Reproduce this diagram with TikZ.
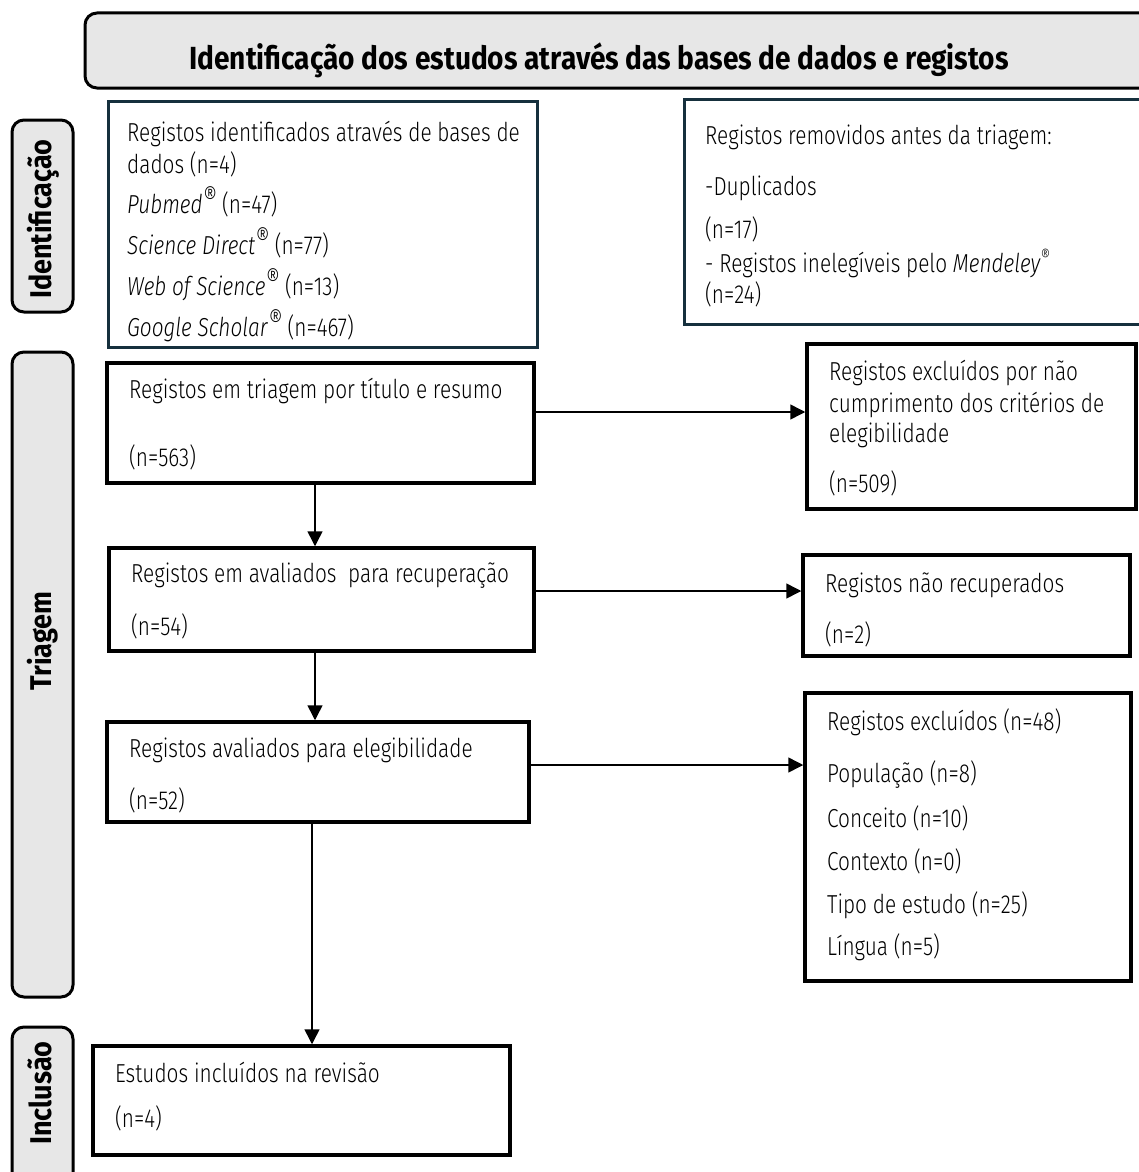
\documentclass[tikz,border=0pt]{standalone}
\usepackage{fontspec}
\usepackage{graphicx}
\setmainfont{Fira Sans}[UprightFont=* Light, ItalicFont=* Light Italic, FakeStretch=0.80]
\newfontfamily\headfont{Fira Sans}[UprightFont=* Bold, FakeStretch=0.877]
\newfontfamily\sidefont{Fira Sans}[UprightFont=* Bold, FakeStretch=0.90]
\usetikzlibrary{arrows.meta}
\definecolor{navy}{HTML}{16303D}
\definecolor{panel}{HTML}{E7E7E7}
\newcommand{\regmark}{\raisebox{7pt}{\fontsize{27}{27}\selectfont\textit{®}}}
\tikzset{
  box/.style={draw=black, line width=3.5pt, fill=white, inner sep=0, minimum width=#1},
  navybox/.style={draw=navy, line width=3pt, fill=white, inner sep=0},
  panelbox/.style={draw=black, line width=3pt, fill=panel, rounded corners=12pt},
  txt/.style={anchor=base west, inner sep=0, font=\fontsize{26}{30}\selectfont},
  head/.style={inner sep=0, font=\headfont\fontsize{32}{36}\selectfont},
  side/.style={inner sep=0, rotate=90, anchor=base, font=\sidefont\fontsize{30}{34}\selectfont},
  arr/.style={line width=1.5pt, -{Triangle[width=15pt,length=15pt]}}
}
\begin{document}
\begin{tikzpicture}[x=1pt,y=-1pt]
\useasboundingbox (0,0) rectangle (1138,1172);
\fill[white] (0,0) rectangle (1138,1172);
% title
\draw[panelbox] (85,13) rectangle (1160,88);
\node[head, anchor=base] (title) at (599,70) {Identificação dos estudos através das bases de dados e registos};
% side panels
\draw[panelbox] (12,120) rectangle (73,312);
\draw[panelbox] (12,352) rectangle (73,997);
\draw[panelbox] (12,1027) rectangle (73,1200);
\node[side] (sid) at (51,219) {Identificação};
\node[side] (str) at (51,641) {Triagem};
\node[side] (sin) at (51,1093) {Inclusão};
% boxes
\node[navybox, minimum width=429pt, minimum height=246pt] (b1) at (322.5,224) {};
\node[navybox, minimum width=466pt, minimum height=225pt] (b2) at (917,211.5) {};
\node[box=427pt, minimum height=120pt] (b3) at (320.5,423) {};
\node[box=329pt, minimum height=165pt] (b4) at (971.5,426.5) {};
\node[box=425pt, minimum height=103pt] (b5) at (321.5,599.5) {};
\node[box=327pt, minimum height=101pt] (b6) at (966.5,605.5) {};
\node[box=422pt, minimum height=100pt] (b7) at (318,772) {};
\node[box=326pt, minimum height=288pt] (b8) at (968,837) {};
\node[box=417pt, minimum height=109pt] (b9) at (301.5,1100.5) {};
% texts b1
\node[txt] (t11) at (127,141) {Registos identificados através de bases de};
\node[txt] (t12) at (127,173) {dados (n=4)};
\node[txt] (t13) at (127,213) {\textit{Pubmed}\regmark\ (n=47)};
\node[txt] (t14) at (127,254) {\textit{Science Direct}\regmark\ (n=77)};
\node[txt] (t15) at (127,295) {\textit{Web of Science}\regmark\ (n=13)};
\node[txt] (t16) at (127,336) {\textit{Google Scholar}\regmark\ (n=467)};
% texts b2
\node[txt] (t21) at (705,144) {Registos removidos antes da triagem:};
\node[txt] (t22) at (705,195) {-Duplicados};
\node[txt] (t23) at (705,238) {(n=17)};
\node[txt] (t24) at (705,272) {- Registos inelegíveis pelo \textit{Mendeley}\textsuperscript{®}};
\node[txt] (t25) at (705,303) {(n=24)};
% b3
\node[txt] (t31) at (129,398) {Registos em triagem por título e resumo};
\node[txt] (t32) at (129,466) {(n=563)};
% b4
\node[txt] (t41) at (829,380) {Registos excluídos por não};
\node[txt] (t42) at (829,412) {cumprimento dos critérios de};
\node[txt] (t43) at (829,442) {elegibilidade};
\node[txt] (t44) at (829,492) {(n=509)};
% b5
\node[txt] (t51) at (131,582) {Registos em avaliados\ \ para recuperação};
\node[txt] (t52) at (131,635) {(n=54)};
% b6
\node[txt] (t61) at (825,592) {Registos não recuperados};
\node[txt] (t62) at (825,643) {(n=2)};
% b7
\node[txt] (t71) at (129,757) {Registos avaliados para elegibilidade};
\node[txt] (t72) at (129,809) {(n=52)};
% b8
\node[txt] (t81) at (827,730) {Registos excluídos (n=48)};
\node[txt] (t82) at (827,782) {População (n=8)};
\node[txt] (t83) at (827,827) {Conceito (n=10)};
\node[txt] (t84) at (827,870) {Contexto (n=0)};
\node[txt] (t85) at (827,913) {Tipo de estudo (n=25)};
\node[txt] (t86) at (827,955) {Língua (n=5)};
% b9
\node[txt] (t91) at (115,1082) {Estudos incluídos na revisão};
\node[txt] (t92) at (115,1127) {(n=4)};
% connectors
\draw[arr] (b3.east |- 0,412) -- (b4.west |- 0,412);
\draw[arr] (b5.east |- 0,591) -- (b6.west |- 0,591);
\draw[arr] (b7.east |- 0,765) -- (b8.west |- 0,765);
\draw[arr] (b3.south -| 315,0) -- (b5.north -| 315,0);
\draw[arr] (b5.south -| 315,0) -- (b7.north -| 315,0);
\draw[arr] (b7.south -| 312,0) -- (b9.north -| 312,0);
\end{tikzpicture}
\end{document}
